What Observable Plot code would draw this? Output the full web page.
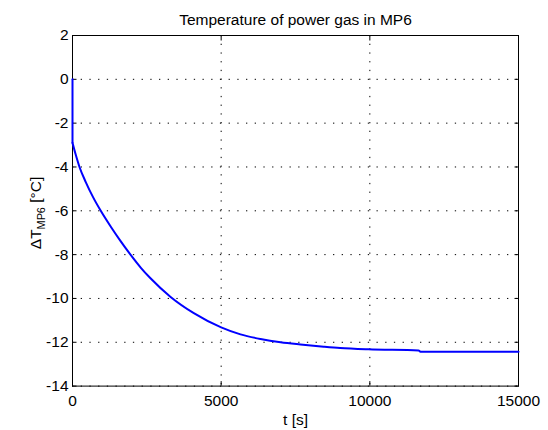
<!DOCTYPE html>
<html>
<head>
<meta charset="utf-8">
<script src="https://cdn.jsdelivr.net/npm/d3@7"></script>
<script src="https://cdn.jsdelivr.net/npm/@observablehq/plot@0.6"></script>
<style>
  html, body { margin: 0; padding: 0; background: #fff; }
  svg { display: block; }
</style>
</head>
<body>
<div id="chart"></div>
<script>
// initial jump at t = 0
const jumpT = [0, 0];
const jumpV = [0, -2.9];
// cooling curve
const timeS = [0, 100, 235, 450, 700, 950, 1300, 1600, 1950, 2300, 2623, 3300, 4080, 5000, 5650, 6323, 7000, 7667, 8450, 9000, 9950, 11640, 11700, 15000];
const deltaT = [-2.9, -3.4, -4.0, -4.7, -5.4, -6.0, -6.75, -7.35, -8.0, -8.6, -9.08, -9.93, -10.67, -11.32, -11.64, -11.85, -12.0, -12.1, -12.2, -12.26, -12.32, -12.37, -12.43, -12.43];
const xTicks = [0, 5000, 10000, 15000];
const yTicks = [2, 0, -2, -4, -6, -8, -10, -12, -14];
const titleText = "Temperature of power gas in MP6";
const xLabel = "t [s]";

const data = [
  ...jumpT.map((t, i) => ({t, v: jumpV[i], s: "jump"})),
  ...timeS.map((t, i) => ({t, v: deltaT[i], s: "curve"}))
];
const font = "'Liberation Sans', Arial, Helvetica, sans-serif";
const fs = 15.5;

const plot = Plot.plot({
  width: 548,
  height: 430,
  marginLeft: 72,
  marginRight: 30,
  marginTop: 35,
  marginBottom: 44.4,
  style: {fontFamily: font, fontSize: fs + "px", color: "black", background: "white"},
  x: {domain: [0, 15000]},
  y: {domain: [-14, 2]},
  marks: [
    Plot.gridX(xTicks, {stroke: "black", strokeOpacity: 1, strokeWidth: 1, strokeDasharray: "1.3,7.4"}),
    Plot.gridY(yTicks, {stroke: "black", strokeOpacity: 1, strokeWidth: 1, strokeDasharray: "1.3,7.4"}),
    Plot.axisX({anchor: "bottom", ticks: xTicks, tickSize: 0, tickPadding: 8.5, tickFormat: d => String(d), fontSize: fs, label: null}),
    Plot.axisY({anchor: "left", ticks: yTicks, tickSize: 0, tickPadding: 4, tickFormat: d => String(d).replace("\u2212", "-"), fontSize: fs, label: null}),
    Plot.axisX({anchor: "bottom", ticks: xTicks, tickSize: -4.5, text: null, label: null}),
    Plot.axisX({anchor: "top", ticks: xTicks, tickSize: -4.5, text: null, label: null}),
    Plot.axisY({anchor: "left", ticks: yTicks, tickSize: -4.5, text: null, label: null}),
    Plot.axisY({anchor: "right", ticks: yTicks, tickSize: -4.5, text: null, label: null}),
    Plot.frame({stroke: "black", strokeWidth: 1}),
    Plot.line(data, {x: "t", y: "v", z: "s", stroke: "#0000ff", strokeWidth: 2, curve: "monotone-x"}),
    Plot.text([titleText], {frameAnchor: "top", lineAnchor: "middle", dy: -15, fontSize: fs, fill: "black"}),
    Plot.text([xLabel], {frameAnchor: "bottom", lineAnchor: "middle", dy: 33.6, fontSize: fs, fill: "black"})
  ]
});

document.getElementById("chart").appendChild(plot);

// y label with subscript
const svg = d3.select(plot);
const yl = svg.append("text")
  .attr("transform", "translate(41,213) rotate(-90)")
  .attr("text-anchor", "middle")
  .attr("font-family", font)
  .attr("font-size", fs)
  .attr("fill", "black");
yl.append("tspan").text("\u0394T");
yl.append("tspan").attr("font-size", fs * 0.7).attr("dy", 4).text("MP6");
yl.append("tspan").attr("dy", -4).text(" [\u00b0C]");
</script>
</body>
</html>
